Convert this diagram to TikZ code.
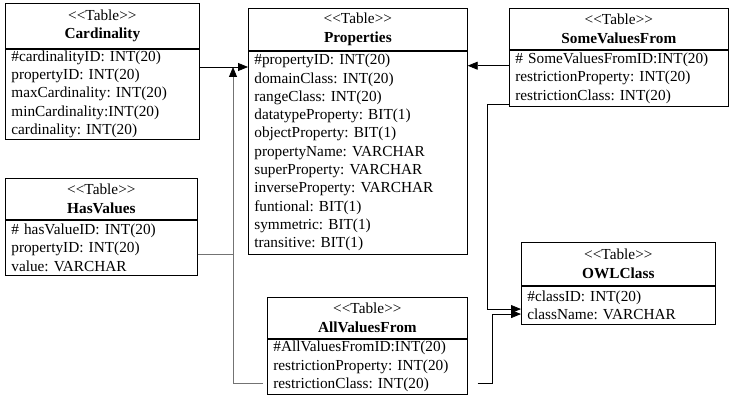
\documentclass[tikz,border=0pt]{standalone}
\usepackage{fontspec}
\setmainfont{Liberation Serif}
\usetikzlibrary{positioning, arrows.meta}
\definecolor{linkgrey}{RGB}{115,115,115}
\newcommand{\tbltag}{<{}<Table>{}>}
\tikzset{
    tblhead/.style={rectangle, draw=black, line width=0.7pt, minimum width=#1, minimum height=41pt, inner sep=0pt, align=center, anchor=north west, font=\fontsize{15.3}{18.3}\selectfont\frenchspacing},
    tblbody/.style={rectangle, draw=black, line width=0.7pt, text width=#1, inner xsep=6pt, inner ysep=1.5pt, align=left, font=\fontsize{15.3}{18.3}\selectfont\frenchspacing},
    arr/.style={-{Triangle[length=10pt, width=8pt]}, line width=0.8pt, color=black},
    arrgrey/.style={-{Triangle[length=10pt, width=8pt, color=black]}, line width=0.8pt, color=linkgrey},
    joinline/.style={line width=0.8pt, color=linkgrey}
}

\begin{document}
\begin{tikzpicture}[x=1pt, y=1pt]
    \fill[white] (0,0) rectangle (735,397);
    \useasboundingbox (0,0) rectangle (735,397);

    % tables
    \node[tblhead=194pt, minimum height=45pt] (cardHead) at (5,394) {\tbltag\\\textbf{Cardinality}};
    \node[tblbody=182pt, minimum height=89pt, below=0pt of cardHead] (cardBody) {\#cardinalityID: INT(20)\\propertyID: INT(20)\\maxCardinality: INT(20)\\minCardinality:INT(20)\\cardinality: INT(20)};

    \node[tblhead=219pt, minimum height=42pt] (propHead) at (248,389) {\tbltag\\\textbf{Properties}};
    \node[tblbody=207pt, minimum height=203pt, below=0pt of propHead] (propBody) {\#propertyID: INT(20)\\domainClass: INT(20)\\rangeClass: INT(20)\\datatypeProperty: BIT(1)\\objectProperty: BIT(1)\\propertyName: VARCHAR\\superProperty: VARCHAR\\inverseProperty: VARCHAR\\funtional: BIT(1)\\symmetric: BIT(1)\\transitive: BIT(1)};

    \node[tblhead=219pt] (svfHead) at (509,389) {\tbltag\\\textbf{SomeValuesFrom}};
    \node[tblbody=207pt, minimum height=56pt, below=0pt of svfHead] (svfBody) {\# SomeValuesFromID:INT(20)\\restrictionProperty: INT(20)\\restrictionClass: INT(20)};

    \node[tblhead=192pt] (hvHead) at (5,219) {\tbltag\\\textbf{HasValues}};
    \node[tblbody=180pt, minimum height=55pt, below=0pt of hvHead] (hvBody) {\# hasValueID: INT(20)\\propertyID: INT(20)\\value: VARCHAR};

    \node[tblhead=194pt, minimum height=43pt] (owlHead) at (521,155) {\tbltag\\\textbf{OWLClass}};
    \node[tblbody=182pt, minimum height=38pt, below=0pt of owlHead] (owlBody) {\#classID: INT(20)\\className: VARCHAR};

    \node[tblhead=200pt] (avfHead) at (267,100) {\tbltag\\\textbf{AllValuesFrom}};
    \node[tblbody=188pt, minimum height=55pt, below=0pt of avfHead] (avfBody) {\#AllValuesFromID:INT(20)\\restrictionProperty: INT(20)\\restrictionClass: INT(20)};

    % links
    \coordinate (join) at (233,330);
    \coordinate (svfOut) at ([yshift=-16pt]svfBody.north west);
    \coordinate (hvOut) at ([yshift=-6.5pt]hvBody.east);
    \coordinate (avfL) at ([yshift=-16.5pt]avfBody.west);
    \coordinate (avfR) at ([yshift=-16.5pt]avfBody.east);
    \coordinate (owlInA) at ([yshift=-4pt]owlBody.west);
    \coordinate (owlInB) at ([yshift=-9pt]owlBody.west);

    \draw[arr] (cardBody.east |- join) -- (propBody.west |- join);
    \draw[arr] (svfOut) -- (svfOut -| propBody.east);
    \draw[joinline] (hvOut) -- (hvOut -| join);
    \draw[arrgrey, shorten <=4pt] (avfL) -| (join);
    \draw[arr] ([yshift=2pt]svfBody.south west) -- ++(-22,0) |- (owlInA);
    \draw[arr, shorten <=10pt] (avfR) -- ++(25,0) |- (owlInB);
\end{tikzpicture}
\end{document}
